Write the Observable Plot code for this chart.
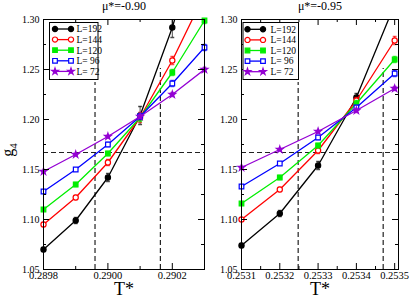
<!DOCTYPE html>
<html><head><meta charset="utf-8">
<script src="https://cdn.jsdelivr.net/npm/d3@7"></script>
<script src="https://cdn.jsdelivr.net/npm/@observablehq/plot@0.6"></script>
<style>
body{margin:0;background:#fff;}
#chart{position:relative;width:409px;height:298px;overflow:hidden;font-family:"Liberation Serif","DejaVu Serif",serif;}
#chart svg.plot{position:absolute;top:0;}
#overlay{position:absolute;left:0;top:0;pointer-events:none;}
</style></head><body><div id="chart"></div>
<script>
// ---- data ----
const seriesLabels = ["L=192", "L=144", "L=120", "L= 96", "L= 72"];

const titleLeft = "μ*=-0.90";
const tLeft = [0.2898, 0.2899, 0.2900, 0.2901, 0.2902, 0.2903];
const g192Left = [1.070, 1.099, 1.142, 1.204, 1.292, 1.400];
const g144Left = [1.095, 1.122, 1.157, 1.202, 1.259, 1.325];
const g120Left = [1.110, 1.135, 1.166, 1.202, 1.247, 1.299];
const g96Left  = [1.128, 1.150, 1.175, 1.203, 1.236, 1.272];
const g72Left  = [1.148, 1.165, 1.183, 1.203, 1.225, 1.250];
const e192Left = [0.002, 0.003, 0.004, 0.009, 0.010, 0.010];
const e144Left = [0.002, 0.002, 0.003, 0.005, 0.004, 0.004];
const e120Left = [0.001, 0.002, 0.002, 0.004, 0.003, 0.003];
const e96Left  = [0.001, 0.001, 0.002, 0.003, 0.003, 0.003];
const e72Left  = [0.001, 0.001, 0.001, 0.002, 0.002, 0.002];
const vLinesLeft = [0.28996, 0.290163];
const vTopsLeft = [1.237, 1.251];
const xMajorLeft = [0.2898, 0.2900, 0.2902];
const xMinorLeft = [0.2899, 0.2901];

const titleRight = "μ*=-0.95";
const tRight = [0.2531, 0.2532, 0.2533, 0.2534, 0.2535];
const g192Right = [1.074, 1.106, 1.154, 1.222, 1.315];
const g144Right = [1.100, 1.130, 1.169, 1.219, 1.279];
const g120Right = [1.116, 1.142, 1.174, 1.216, 1.260];
const g96Right  = [1.133, 1.156, 1.182, 1.212, 1.246];
const g72Right  = [1.152, 1.170, 1.188, 1.209, 1.231];
const e192Right = [0.002, 0.003, 0.004, 0.004, 0.006];
const e144Right = [0.001, 0.002, 0.003, 0.003, 0.004];
const e120Right = [0.001, 0.002, 0.002, 0.003, 0.003];
const e96Right  = [0.001, 0.001, 0.002, 0.002, 0.003];
const e72Right  = [0.001, 0.001, 0.001, 0.002, 0.002];
const vLinesRight = [0.253248, 0.25347];
const vTopsRight = [1.237, 1.251];
const xMajorRight = [0.2531, 0.2532, 0.2533, 0.2534, 0.2535];
const xMinorRight = [0.25315, 0.25325, 0.25335, 0.25345];

const hLineValue = 1.167;
const yDomain = [1.05, 1.30];
const yMajor = [1.05, 1.10, 1.15, 1.20, 1.25, 1.30];
const yMinor = [1.075, 1.125, 1.175, 1.225, 1.275];

// ---- styles ----
const colors = ["#000000", "#ff0000", "#00ee00", "#0000ff", "#9400d3"];
const symbols = ["circle", "circle", "square", "square", "star"];
const filled = [true, false, true, false, true];
const radius = {circle: 2.6, square: 2.6, star: 2.1};
const capSymbol = {draw(ctx, size) { const r = Math.sqrt(size) / 2; ctx.moveTo(-r, 0); ctx.lineTo(r, 0); }};
const FONT = "Liberation Serif, DejaVu Serif, serif";
const H = 298, MT = 19, MB = 29;

function panel(o) {
  const pw = o.width - o.marginLeft - o.marginRight;
  const ph = H - MT - MB;
  const marks = [
    Plot.ruleY([hLineValue], {y: d => d, stroke: "#222", strokeWidth: 1.2, strokeDasharray: "5,3"}),
    Plot.ruleX(o.vLines.map((x, i) => ({x, top: o.vTops[i]})), {x: "x", y1: () => yDomain[0], y2: "top", stroke: "#222", strokeWidth: 1.2, strokeDasharray: "5,3"})
  ];
  o.values.forEach((vals, s) => {
    const data = vals.map((g, i) => ({T: o.T[i], g, e: o.errors[s][i]}));
    const inside = data.filter(d => d.g <= yDomain[1]);
    const c = colors[s];
    marks.push(
      Plot.line(data, {x: "T", y: "g", stroke: c, strokeWidth: 1.3, clip: true}),
      Plot.ruleX(inside, {x: "T", y1: d => d.g - d.e, y2: d => d.g + d.e, stroke: c, strokeWidth: 1, strokeOpacity: 0.7, clip: true}),
      Plot.dot(inside, {x: "T", y: d => d.g - d.e, symbol: capSymbol, r: 2.2, stroke: c, strokeOpacity: 0.7, fill: "none"}),
      Plot.dot(inside.filter(d => d.g + d.e <= yDomain[1]), {x: "T", y: d => d.g + d.e, symbol: capSymbol, r: 2.2, stroke: c, strokeOpacity: 0.7, fill: "none"}),
      Plot.dot(inside, {x: "T", y: "g", symbol: symbols[s], r: radius[symbols[s]], fill: filled[s] ? c : "white", stroke: c, strokeWidth: 1.2})
    );
  });
  marks.push(
    Plot.tickY(yMajor, {y: d => d, insetRight: pw - 6, stroke: "#000"}),
    Plot.tickY(yMajor, {y: d => d, insetLeft: pw - 6, stroke: "#000"}),
    Plot.tickY(yMinor, {y: d => d, insetRight: pw - 3, stroke: "#000"}),
    Plot.tickY(yMinor, {y: d => d, insetLeft: pw - 3, stroke: "#000"}),
    Plot.tickX(o.xMajor, {x: d => d, insetTop: ph - 6, stroke: "#000"}),
    Plot.tickX(o.xMajor, {x: d => d, insetBottom: ph - 6, stroke: "#000"}),
    Plot.tickX(o.xMinor, {x: d => d, insetTop: ph - 3, stroke: "#000"}),
    Plot.tickX(o.xMinor, {x: d => d, insetBottom: ph - 3, stroke: "#000"}),
    Plot.frame({stroke: "#000", strokeWidth: 1}),
    Plot.axisY(yMajor, {tickSize: 0, tickPadding: 4, tickFormat: d3.format(".2f"), label: null, fontSize: 10}),
    Plot.axisX(o.xMajor, {tickSize: 0, tickPadding: 2, tickFormat: d3.format(".4f"), label: null, fontSize: 10.5}),
    Plot.text([o.title], {text: d => d, frameAnchor: "top", lineAnchor: "middle", dy: -13, fontSize: 12, fill: "#000"}),
    Plot.text(["T*"], {text: d => d, frameAnchor: "bottom", lineAnchor: "middle", dy: 19.5, fontSize: 18, fill: "#000"})
  );
  const svg = Plot.plot({
    width: o.width, height: H,
    marginLeft: o.marginLeft, marginRight: o.marginRight, marginTop: MT, marginBottom: MB,
    x: {domain: o.xDomain},
    y: {domain: yDomain},
    style: {fontFamily: FONT, background: "transparent", color: "#000", overflow: "visible"},
    marks
  });
  svg.classList.add("plot");
  svg.style.left = o.left + "px";
  return svg;
}

const chart = document.getElementById("chart");
chart.append(panel({
  left: 0, width: 206, marginLeft: 43, marginRight: 2,
  title: titleLeft, T: tLeft,
  values: [g192Left, g144Left, g120Left, g96Left, g72Left],
  errors: [e192Left, e144Left, e120Left, e96Left, e72Left],
  xDomain: [0.2898, 0.2903], xMajor: xMajorLeft, xMinor: xMinorLeft,
  vLines: vLinesLeft, vTops: vTopsLeft
}));
chart.append(panel({
  left: 206, width: 203, marginLeft: 35, marginRight: 11,
  title: titleRight, T: tRight,
  values: [g192Right, g144Right, g120Right, g96Right, g72Right],
  errors: [e192Right, e144Right, e120Right, e96Right, e72Right],
  xDomain: [0.2531, 0.25351], xMajor: xMajorRight, xMinor: xMinorRight,
  vLines: vLinesRight, vTops: vTopsRight
}));

// ---- overlay: legends and y label ----
const ov = d3.select(chart).append("svg").attr("id", "overlay").attr("width", 409).attr("height", H)
  .style("font-family", FONT);
const legends = [
  {bx: 49, by: 22, bw: 48.5, bh: 57, lx1: 55, lx2: 71, tx: 76.5, y0: 29, step: 10.6},
  {bx: 242.5, by: 22, bw: 55.5, bh: 57, lx1: 247.5, lx2: 263, tx: 270.5, y0: 29.3, step: 10.6}
];
legends.forEach(L => {
  const g = ov.append("g");
  g.append("rect").attr("x", L.bx + 0.5).attr("y", L.by + 0.5).attr("width", L.bw).attr("height", L.bh)
    .attr("fill", "white").attr("stroke", "#000").attr("stroke-width", 1);
  seriesLabels.forEach((lab, s) => {
    const y = L.y0 + s * L.step;
    const c = colors[s];
    g.append("line").attr("x1", L.lx1).attr("x2", L.lx2).attr("y1", y).attr("y2", y).attr("stroke", c).attr("stroke-width", 1.3);
    const symType = {circle: d3.symbolCircle, square: d3.symbolSquare, star: d3.symbolStar}[symbols[s]];
    const r = radius[symbols[s]];
    [L.lx1, L.lx2].forEach(x => {
      g.append("path").attr("d", d3.symbol(symType, Math.PI * r * r)()).attr("transform", `translate(${x},${y})`)
        .attr("fill", filled[s] ? c : "white").attr("stroke", c).attr("stroke-width", 1.2);
    });
    g.append("text").attr("x", L.tx).attr("y", y).attr("dy", "0.35em").attr("font-size", 9.5).attr("fill", "#000")
      .attr("xml:space", "preserve").style("white-space", "pre").text(lab);
  });
});
const yl = ov.append("text").attr("transform", "translate(13,150) rotate(-90)").attr("text-anchor", "middle")
  .attr("font-size", 16).attr("fill", "#000");
yl.append("tspan").text("g");
yl.append("tspan").attr("font-size", 11).attr("dy", 4).text("4");
</script>
</body></html>
